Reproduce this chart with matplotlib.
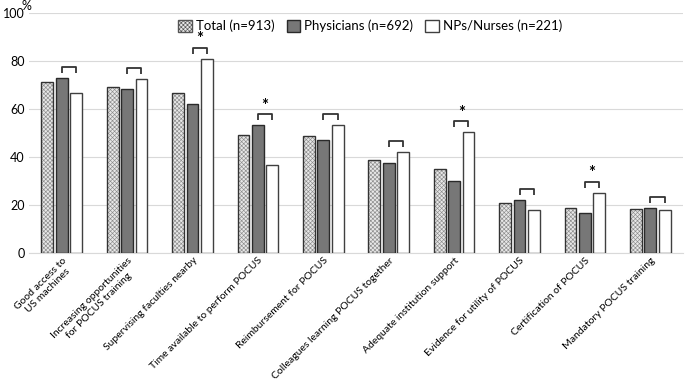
import matplotlib
matplotlib.use("Agg")
import matplotlib.pyplot as plt
import numpy as np
from matplotlib.patches import Patch

plt.rcParams['font.family'] = ['Lato', 'DejaVu Sans']

categories = [
    "Good access to\nUS machines",
    "Increasing opportunities\nfor POCUS training",
    "Supervising faculties nearby",
    "Time available to perform POCUS",
    "Reimbursement for POCUS",
    "Colleagues learning POCUS together",
    "Adequate institution support",
    "Evidence for utility of POCUS",
    "Certification of POCUS",
    "Mandatory POCUS training",
]
total = [71.1, 69.2, 66.7, 49.3, 48.6, 38.6, 34.9, 21.0, 18.6, 18.3]
physicians = [72.8, 68.3, 62.2, 53.3, 47.2, 37.4, 29.9, 21.9, 16.7, 18.6]
nurses = [66.5, 72.4, 81.0, 36.8, 53.2, 42.1, 50.3, 17.8, 25.1, 17.8]
significant = [False, False, True, True, False, False, True, False, True, False]
series_labels = ["Total (n=913)", "Physicians (n=692)", "NPs/Nurses (n=221)"]

W, H = 685, 387
fig = plt.figure(figsize=(W / 100, H / 100), dpi=100)
ax = fig.add_axes([29 / W, 1 - 253 / H, (683 - 29) / W, 240 / H])

x = np.arange(len(categories))
bw = 0.183
off = 0.22

plt.rcParams['hatch.linewidth'] = 0.45
# Total: stippled
ax.bar(x - off, total, bw, facecolor='#e8e8e8', edgecolor='#8c8c8c', hatch='xxxxxxxx', linewidth=0, zorder=3)
ax.bar(x - off, total, bw, fill=False, edgecolor='#333333', linewidth=1.0, zorder=4)
ax.bar(x, physicians, bw, facecolor='#777777', edgecolor='#2a2a2a', linewidth=1.0, zorder=3)
ax.bar(x + off, nurses, bw, facecolor='white', edgecolor='#404040', linewidth=1.0, zorder=3)

# brackets
for i in range(len(categories)):
    top = max(physicians[i], nurses[i]) + 4.6
    leg = 2.5
    ax.plot([x[i], x[i], x[i] + off, x[i] + off], [top - leg, top, top, top - leg],
            color='#333333', lw=1.3, zorder=5, solid_capstyle='butt')
    if significant[i]:
        ax.text(x[i] + off / 2, top + 0.2, '*', ha='center', va='bottom', fontsize=12,
                fontweight='bold', color='black')

ax.set_xlim(-0.5, len(categories) - 0.5)
ax.set_ylim(0, 100)
ax.set_yticks([0, 20, 40, 60, 80, 100])
ax.yaxis.grid(True, color='#d9d9d9', lw=0.8, zorder=0)
ax.set_axisbelow(True)
for s in ['top', 'right', 'left']:
    ax.spines[s].set_visible(False)
ax.spines['bottom'].set_color('#d9d9d9')
ax.tick_params(axis='both', length=0, labelsize=9, colors='black')
ax.tick_params(axis='y', pad=3)
ax.set_xticks(x)
ax.set_xticklabels(categories, rotation=45, ha='right', rotation_mode='anchor',
                   multialignment='center', fontsize=7.5)
ax.tick_params(axis='x', pad=2)

fig.text(22 / W, 1 - 6 / H, '%', fontsize=9, ha='left', va='center')

handles = [
    Patch(facecolor='#e8e8e8', edgecolor='#555555', hatch='xxxxxxxx', linewidth=1.0),
    Patch(facecolor='#777777', edgecolor='#2a2a2a', linewidth=1.0),
    Patch(facecolor='white', edgecolor='#404040', linewidth=1.0),
]
ax.legend(handles, series_labels, ncol=3, frameon=False, loc='center',
          bbox_to_anchor=(0.522, 0.946), fontsize=9.5, handlelength=1.0, handleheight=1.0,
          handletextpad=0.35, columnspacing=0.9)

fig.savefig('out.png', dpi=100)
